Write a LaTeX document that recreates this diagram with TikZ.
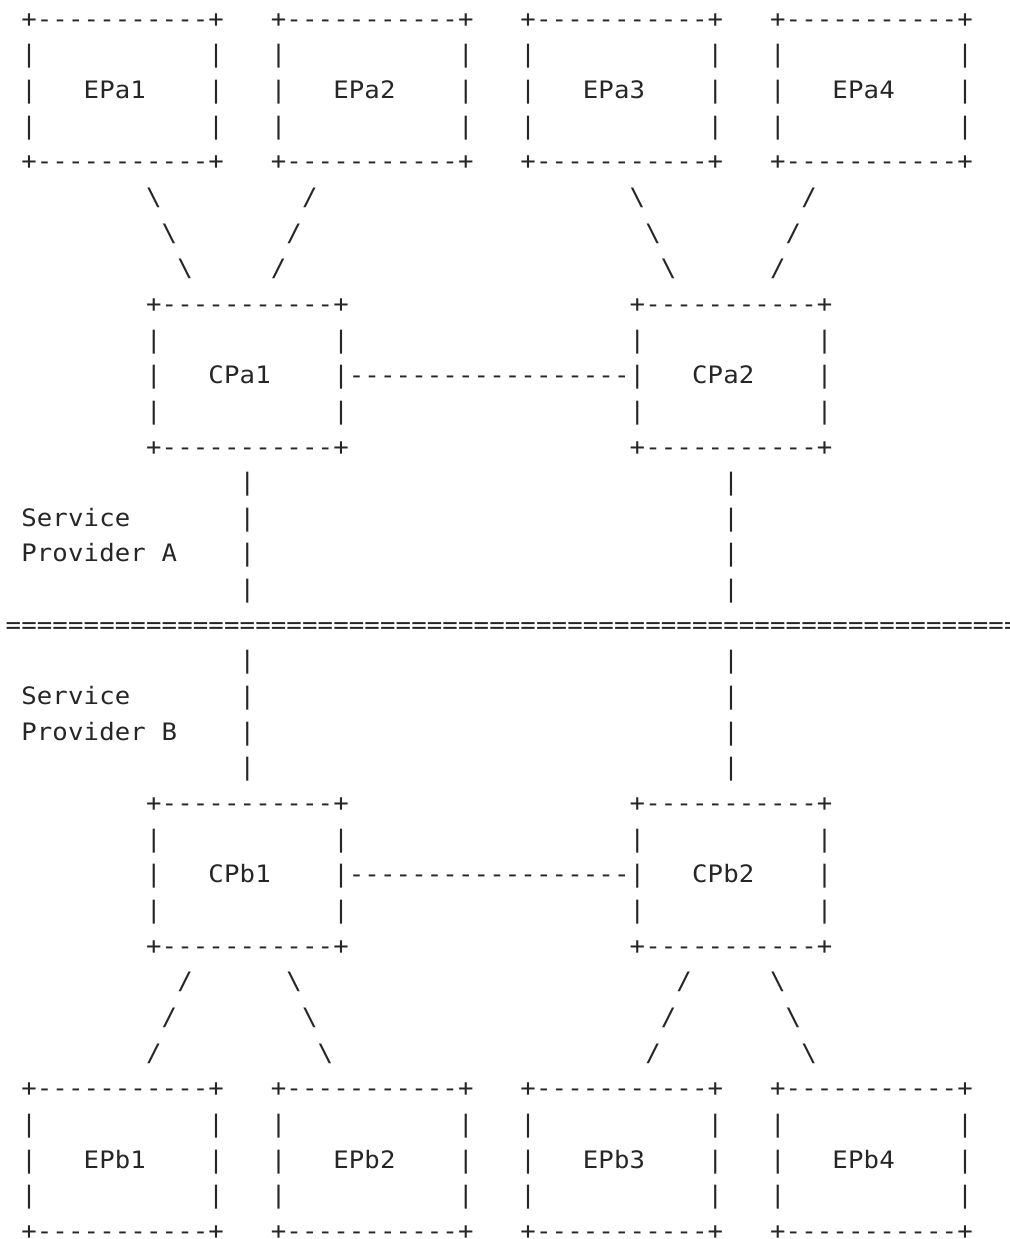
\documentclass[tikz,border=0pt]{standalone}
\usepackage{fontspec}
\newfontfamily\asciifont[FakeStretch=1.07]{DejaVu Sans Mono}
\tikzset{
  glyph/.style={inner sep=0pt, outer sep=0pt, anchor=base, text=black!85,
    font={\asciifont\fontsize{12pt}{14pt}\selectfont}}
}
% one character at column #1, row #2
\newcommand\pc[3]{\node[glyph] at (#1,#2) {#3};}
% a word: characters #3 (comma list) from column #1 on row #2
\newcommand\aword[3]{\foreach \cx [count=\k from 0] in {#3} {\node[glyph] at ({#1+\k},#2) {\cx};}}
% an ASCII box named #1, top-left column #2, top row #3, label characters #4
\newcommand\asciibox[4]{%
  \coordinate (#1) at ({#2+6},{#3+2});
  \pc{#2}{#3}{+}\pc{#2+12}{#3}{+}\pc{#2}{#3+4}{+}\pc{#2+12}{#3+4}{+}
  \foreach \k in {1,...,11} {\node[glyph] at ({#2+\k},#3) {-}; \node[glyph] at ({#2+\k},{#3+4}) {-};}
  \foreach \k in {1,2,3} {\node[glyph] at (#2,{#3+\k}) {|}; \node[glyph] at ({#2+12},{#3+\k}) {|};}
  \aword{#2+4}{#3+2}{#4}%
}
\begin{document}
\begin{tikzpicture}
\useasboundingbox (0pt,0pt) rectangle (504.5pt,-619.5pt);
\clip (0pt,0pt) rectangle (504.5pt,-619.5pt);
\begin{scope}[shift={(6.7pt,-13.6pt)}, x=7.8pt, y=-17.825pt]
  % end points A
  \asciibox{EPa1}{1}{0}{E,P,a,1}
  \asciibox{EPa2}{17}{0}{E,P,a,2}
  \asciibox{EPa3}{33}{0}{E,P,a,3}
  \asciibox{EPa4}{49}{0}{E,P,a,4}
  % slashes A
  \foreach \k in {0,1,2} {
    \node[glyph] at ({9+\k},{5+\k}) {\textbackslash};
    \node[glyph] at ({19-\k},{5+\k}) {/};
    \node[glyph] at ({40+\k},{5+\k}) {\textbackslash};
    \node[glyph] at ({51-\k},{5+\k}) {/};
  }
  % core A
  \asciibox{CPa1}{9}{8}{C,P,a,1}
  \asciibox{CPa2}{40}{8}{C,P,a,2}
  \foreach \k in {22,...,39} {\node[glyph] at (\k,10) {-};}
  % verticals
  \foreach \r in {13,...,16,18,19,20,21} {
    \node[glyph] at (15,\r) {|};
    \node[glyph] at (46,\r) {|};
  }
  \aword{1}{14}{S,e,r,v,i,c,e}
  \aword{1}{15}{P,r,o,v,i,d,e,r}
  \pc{10}{15}{A}
  \foreach \k in {0,...,64} {\node[glyph] at (\k,17) {=};}
  \aword{1}{19}{S,e,r,v,i,c,e}
  \aword{1}{20}{P,r,o,v,i,d,e,r}
  \pc{10}{20}{B}
  % core B
  \asciibox{CPb1}{9}{22}{C,P,b,1}
  \asciibox{CPb2}{40}{22}{C,P,b,2}
  \foreach \k in {22,...,39} {\node[glyph] at (\k,24) {-};}
  % slashes B
  \foreach \k in {0,1,2} {
    \node[glyph] at ({11-\k},{27+\k}) {/};
    \node[glyph] at ({18+\k},{27+\k}) {\textbackslash};
    \node[glyph] at ({43-\k},{27+\k}) {/};
    \node[glyph] at ({49+\k},{27+\k}) {\textbackslash};
  }
  % end points B
  \asciibox{EPb1}{1}{30}{E,P,b,1}
  \asciibox{EPb2}{17}{30}{E,P,b,2}
  \asciibox{EPb3}{33}{30}{E,P,b,3}
  \asciibox{EPb4}{49}{30}{E,P,b,4}
\end{scope}
\end{tikzpicture}
\end{document}
